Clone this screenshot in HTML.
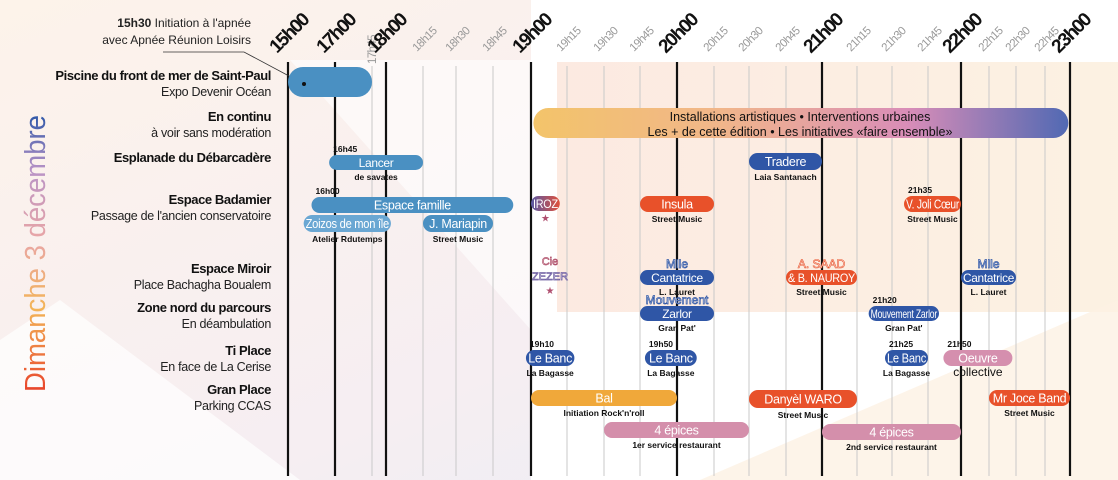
<!DOCTYPE html>
<html><head><meta charset="utf-8"><style>
html,body{margin:0;padding:0;width:1118px;height:480px;overflow:hidden;background:#fff}
svg{display:block;font-family:"Liberation Sans",sans-serif}
</style></head><body>
<svg id="chart" width="1118" height="480" viewBox="0 0 1118 480">
<defs>
<linearGradient id="bgL" x1="0" y1="0" x2="1" y2="1"><stop offset="0" stop-color="#fdf3ea"/><stop offset="0.6" stop-color="#f6eef2"/><stop offset="1" stop-color="#e8ecf5"/></linearGradient>
<linearGradient id="peach" x1="0" y1="0" x2="1" y2="0"><stop offset="0" stop-color="#fbe6dc"/><stop offset="1" stop-color="#fcefdd"/></linearGradient>
<linearGradient id="inst" x1="0" y1="0" x2="1" y2="0"><stop offset="0" stop-color="#f3c46a"/><stop offset="0.35" stop-color="#f1b68a"/><stop offset="0.7" stop-color="#d98db8"/><stop offset="1" stop-color="#5169b3"/></linearGradient>
<linearGradient id="title" x1="0" y1="0" x2="1" y2="0"><stop offset="0" stop-color="#e8432a"/><stop offset="0.3" stop-color="#f3b457"/><stop offset="0.55" stop-color="#e9a6a6"/><stop offset="0.8" stop-color="#b993c6"/><stop offset="1" stop-color="#2f58a8"/></linearGradient>
<linearGradient id="iroz" x1="0" y1="0" x2="1" y2="0"><stop offset="0" stop-color="#5a5aa5"/><stop offset="1" stop-color="#e0503a"/></linearGradient>
</defs>
<rect x="0" y="0" width="1118" height="480" fill="url(#bgL)"/>
<polygon points="0,480 0,340 60,300 300,480" fill="#ffffff" opacity="0.7"/>
<polygon points="290,60 531,60 531,330" fill="#ffffff" opacity="0.6"/>
<rect x="531" y="0" width="587" height="480" fill="#ffffff"/>
<rect x="557" y="62" width="561" height="250" fill="url(#peach)" opacity="0.85"/>
<polygon points="700,480 1118,300 1118,480" fill="#fdf1e3" opacity="0.8"/>
<text transform="translate(45,392) rotate(-90)" font-size="29" fill="url(#title)" textLength="277" lengthAdjust="spacingAndGlyphs">Dimanche 3 décembre</text>
<g id="grid"></g><g id="rows"></g><g id="marks"></g>
</svg>
<script>
const tickLabels=["15h00","17h00","17h45","18h00","18h15","18h30","18h45","19h00","19h15","19h30","19h45","20h00","20h15","20h30","20h45","21h00","21h15","21h30","21h45","22h00","22h15","22h30","22h45","23h00"];
const tickMajor=[1,1,0,1,0,0,0,1,0,0,0,1,0,0,0,1,0,0,0,1,0,0,0,1];
const rowTitles=["Piscine du front de mer de Saint-Paul","En continu","Esplanade du Débarcadère","Espace Badamier","Espace Miroir","Zone nord du parcours","Ti Place","Gran Place"];
const rowSubs=["Expo Devenir Océan","à voir sans modération","","Passage de l'ancien conservatoire","Place Bachagha Boualem","En déambulation","En face de La Cerise","Parking CCAS"];
const rowY=[80,121,162,204,273,312,355,394];
const evNames=["","Lancer","Tradere","Espace famille","Zoizos de mon île","J. Mariapin","IROZ","Insula","V. Joli Cœur","Cantatrice","A. SAAD|& B. NAUROY","Cantatrice","Zarlor","Mouvement Zarlor","Le Banc","Le Banc","Le Banc","Oeuvre","Bal","Danyèl WARO","Mr Joce Band","4 épices","4 épices"];
const evStart=["15h00","16h45","20h30","16h00","15h40","18h15","19h00","19h45","21h35","19h45","20h45","22h00","19h45","21h20","18h58","19h47","21h27","21h52","19h00","20h30","22h15","19h30","21h00"];
const evEnd=["17h45","18h15","21h00","18h53","18h02","18h45","19h12","20h15","22h00","20h15","21h15","22h30","20h15","21h50","19h18","20h08","21h45","22h28","20h00","21h15","23h00","20h30","22h00"];
const evTop=[67,155,153,197,215,215,196,196,196,270,270,270,306,306,350,350,350,350,390,390,390,422,424];
const evH=[30,15,17,16,17,17,15,16,16,15,15,15,15,15,16,16,16,16,16,18,16,16,16];
const evColor=["#4a90c2","#4a90c2","#2f56a6","#4a90c2","#6aa7d3","#4a90c2","url(#iroz)","#e8512a","#e8512a","#2f56a6","#e8512a","#2f56a6","#2f56a6","#2f56a6","#2f56a6","#2f56a6","#2f56a6","#d58fae","#f0a83a","#e8512a","#e8512a","#d48fab","#d48fab"];
const evSub=["","de savates","Laia Santanach","","Atelier Rdutemps","Street Music","★","Street Music","Street Music","L. Lauret","Street Music","L. Lauret","Gran Pat'","Gran Pat'","La Bagasse","La Bagasse","La Bagasse","collective","Initiation Rock'n'roll","Street Music","Street Music","1er service restaurant","2nd service restaurant"];
const evTime=["","16h45","","16h00","","","","","21h35","","","","","21h20","19h10","19h50","21h25","21h50","","","","",""];
const evAbove=["","","","","","","","","","Mlle","","Mlle","Mouvement","","","","","","","","","",""];
const scaleDom=[0,120,165,180,195,210,225,240,255,270,285,300,315,330,345,360,375,390,405,420,435,450,465,480];
const scaleRng=[288,335,372,386,423,456,493,531,567,604,640,677,714,749,786,822,857,892,928,961,989,1016,1045,1070];
function toMin(s){const p=s.split('h');return (+p[0]-15)*60+(+p[1]);}
function x(m){for(let i=0;i<scaleDom.length-1;i++){if(m<=scaleDom[i+1]){const t=(m-scaleDom[i])/(scaleDom[i+1]-scaleDom[i]);return scaleRng[i]+t*(scaleRng[i+1]-scaleRng[i]);}}return scaleRng[scaleRng.length-1];}
const NS="http://www.w3.org/2000/svg";
function mk(tag,attrs,parent){const e=document.createElementNS(NS,tag);for(const k in attrs)e.setAttribute(k,attrs[k]);parent.appendChild(e);return e;}
function fit(t,w){const L=t.getComputedTextLength();if(L>w){t.setAttribute('textLength',w);t.setAttribute('lengthAdjust','spacingAndGlyphs');}}
const grid=document.getElementById('grid'),rows=document.getElementById('rows'),marks=document.getElementById('marks');
tickLabels.forEach((lab,i)=>{
 const xx=x(toMin(lab));const maj=tickMajor[i];
 const l=mk('line',{x1:xx,x2:xx,y1:maj?62:66,y2:476,stroke:maj?'#111':'#c9c9c9','stroke-width':maj?2.2:1},grid);
 
 
 const t=mk('text',{transform:maj?`translate(${xx-11},54) rotate(-45)`:`translate(${xx-6},52) rotate(-45)`,'font-size':maj?19:11.5,'font-weight':maj?'bold':'normal',fill:maj?'#111':'#999','letter-spacing':maj?-1.5:-0.6},grid);
 if(lab==="17h45"){t.setAttribute('transform',`translate(${xx+4},64) rotate(-90)`);}
 t.textContent=lab;
 
 
 fit(t,maj?58:36);
});
rowTitles.forEach((tt,i)=>{
 const a=mk('text',{x:271,y:rowY[i],'text-anchor':'end','font-size':13,'font-weight':'bold',fill:'#111','letter-spacing':-0.4},rows);
 a.textContent=tt;
 
 
 if(rowSubs[i]){const b=mk('text',{x:271,y:rowY[i]+16,'text-anchor':'end','font-size':12.5,fill:'#222','letter-spacing':-0.3},rows);
 b.textContent=rowSubs[i];
 
 }
});
const an1=mk('text',{x:251,y:27,'text-anchor':'end','font-size':12,fill:'#222'},rows);an1.innerHTML='<tspan font-weight="bold">15h30</tspan> Initiation à l\'apnée';


const an2=mk('text',{x:251,y:44,'text-anchor':'end','font-size':12,fill:'#222'},rows);an2.textContent='avec Apnée Réunion Loisirs';


const ld=mk('polyline',{points:'163,52 244,52 304,84',fill:'none',stroke:'#333','stroke-width':0.8},rows);


const ib=mk('rect',{x:x(toMin("19h01")),y:108,width:x(toMin("22h59"))-x(toMin("19h01")),height:30,rx:15,fill:'url(#inst)'},marks);


[["Installations artistiques • Interventions urbaines",121],["Les + de cette édition • Les initiatives «faire ensemble»",136]].forEach(([s,y])=>{const t=mk('text',{x:800,y:y,'text-anchor':'middle','font-size':12.5,fill:'#111'},marks);t.textContent=s;

});
evNames.forEach((n,i)=>{
 const x0=x(toMin(evStart[i])),x1=x(toMin(evEnd[i])),y=evTop[i],h=evH[i];
 const r=mk('rect',{x:x0,y:y,width:x1-x0,height:h,rx:h/2,fill:evColor[i]},marks);
 
 
 const cx=(x0+x1)/2;
 if(n){const parts=n.split('|');
  if(parts.length>1){const a=mk('text',{x:cx,y:y-2,'text-anchor':'middle','font-size':12,fill:'#fff',stroke:'#e8512a','stroke-width':0.6},marks);a.textContent=parts[0];
  
  fit(a,(x1-x0)*0.75);}
  const t=mk('text',{x:cx,y:y+h/2+4.5,'text-anchor':'middle','font-size':h>=16?12.5:12,fill:'#fff','letter-spacing':-0.3},marks);t.textContent=parts[parts.length-1];
  
  
  fit(t,x1-x0-4);}
 if(evAbove[i]){const a=mk('text',{x:cx,y:y-2,'text-anchor':'middle','font-size':12,fill:'#fff',stroke:'#2f56a6','stroke-width':0.7},marks);a.textContent=evAbove[i];
  
  fit(a,x1-x0);}
 if(evSub[i]){const s=mk('text',{x:cx,y:y+h+10,'text-anchor':'middle','font-size':evSub[i]==='collective'?12:8.5,'font-weight':evSub[i]==='collective'?'normal':'bold',fill:evSub[i]==='★'?'#b05070':'#111'},marks);s.textContent=evSub[i];
  
  }
 if(evTime[i]){const s=mk('text',{x:x0+4,y:y-3,'font-size':8.5,'font-weight':'bold',fill:'#111'},marks);s.textContent=evTime[i];
  
  }
});
const dot=mk('circle',{cx:304,cy:84,r:2,fill:'#111'},marks);


const z1=mk('text',{x:550,y:265,'text-anchor':'middle','font-size':11,fill:'#fff',stroke:'#b0506a','stroke-width':0.7},marks);z1.textContent='Cie';


const z2=mk('text',{x:550,y:280,'text-anchor':'middle','font-size':11,fill:'#fff',stroke:'#6a5aa0','stroke-width':0.7},marks);z2.textContent='ZEZER';


const z3=mk('text',{x:550,y:294,'text-anchor':'middle','font-size':10,fill:'#b05070'},marks);z3.textContent='★';


</script>
</body></html>
